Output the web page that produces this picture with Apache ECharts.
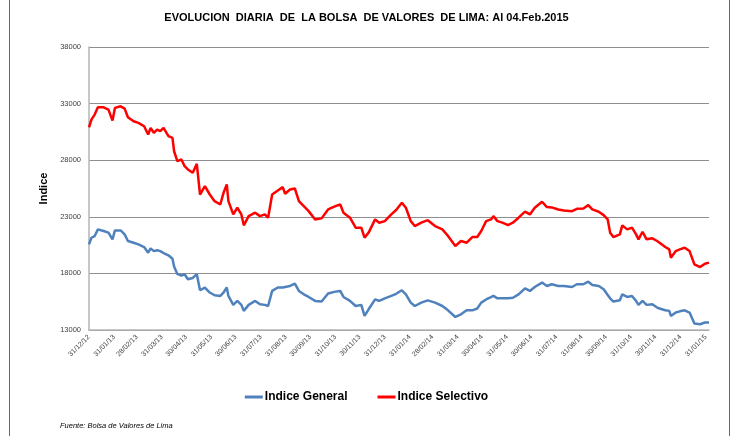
<!DOCTYPE html>
<html>
<head>
<meta charset="utf-8">
<script src="https://cdn.jsdelivr.net/npm/echarts@6/dist/echarts.min.js"></script>
<style>
  html, body { margin: 0; padding: 0; background: #fff; }
  #chart { width: 733px; height: 436px; }
</style>
</head>
<body>
<div id="chart"></div>
<script>
const dates = [
  '2012-12-31','2013-01-03','2013-01-07','2013-01-11','2013-01-18','2013-01-24','2013-01-29','2013-02-01',
  '2013-02-08','2013-02-13','2013-02-17','2013-02-24','2013-03-02','2013-03-09','2013-03-14','2013-03-17',
  '2013-03-21','2013-03-25','2013-03-29','2013-04-02','2013-04-08','2013-04-13','2013-04-15','2013-04-19',
  '2013-04-24','2013-04-28','2013-05-02','2013-05-08','2013-05-13','2013-05-17','2013-05-23','2013-05-29',
  '2013-06-04','2013-06-11','2013-06-15','2013-06-19','2013-06-21','2013-06-27','2013-07-02','2013-07-07',
  '2013-07-10','2013-07-16','2013-07-24','2013-07-30','2013-08-05','2013-08-09','2013-08-14','2013-08-21',
  '2013-08-27','2013-08-30','2013-09-05','2013-09-11','2013-09-16','2013-09-22','2013-09-28','2013-10-06',
  '2013-10-14','2013-10-22','2013-10-31','2013-11-06','2013-11-10','2013-11-18','2013-11-25','2013-12-02',
  '2013-12-06','2013-12-11','2013-12-19','2013-12-24','2013-12-31','2014-01-08','2014-01-14','2014-01-21',
  '2014-01-26','2014-02-01','2014-02-06','2014-02-14','2014-02-22','2014-03-03','2014-03-12','2014-03-19',
  '2014-03-28','2014-04-04','2014-04-11','2014-04-18','2014-04-24','2014-04-29','2014-05-05','2014-05-11',
  '2014-05-14','2014-05-19','2014-05-25','2014-06-01','2014-06-07','2014-06-14','2014-06-22','2014-06-28',
  '2014-07-04','2014-07-13','2014-07-19','2014-07-25','2014-08-02','2014-08-09','2014-08-19','2014-08-25',
  '2014-09-02','2014-09-08','2014-09-13','2014-09-21','2014-09-27','2014-10-02','2014-10-05','2014-10-09',
  '2014-10-17','2014-10-20','2014-10-26','2014-11-01','2014-11-06','2014-11-09','2014-11-14','2014-11-19',
  '2014-11-26','2014-12-02','2014-12-05','2014-12-12','2014-12-17','2014-12-19','2014-12-25','2014-12-30',
  '2015-01-05','2015-01-11','2015-01-17','2015-01-24','2015-01-30','2015-02-04'
];

const indiceGeneral = [
  20560,21150,21300,21890,21740,21600,21010,21800,
  21800,21450,20860,20710,20560,20330,19830,20210,
  19970,20050,19970,19800,19600,19300,18600,17950,
  17800,17920,17480,17600,17920,16510,16750,16310,
  16070,16010,16310,16750,16010,15220,15570,15220,
  14690,15220,15570,15270,15220,15120,16450,16750,
  16750,16800,16890,17100,16450,16150,15920,15570,
  15510,16220,16390,16450,15920,15570,15120,15220,
  14240,14830,15710,15570,15800,16010,16200,16510,
  16150,15420,15120,15420,15620,15420,15120,14740,
  14150,14390,14740,14740,14900,15420,15700,15900,
  16010,15800,15800,15800,15850,16150,16680,16450,
  16800,17190,16890,17040,16890,16890,16800,17040,
  17040,17270,16980,16890,16600,16100,15800,15510,
  15620,16150,15920,16010,15570,15220,15570,15220,
  15270,14980,14900,14740,14690,14240,14540,14650,
  14740,14540,13570,13510,13660,13660
];

const indiceSelectivo = [
  30910,31590,32030,32670,32670,32470,31500,32620,
  32760,32560,31790,31440,31300,31000,30270,30860,
  30420,30710,30560,30860,30120,29970,28790,27910,
  28060,27470,27180,26890,27680,24970,25710,24970,
  24380,24090,25120,25860,24380,23210,23800,23210,
  22250,23060,23360,23060,23210,22920,24970,25330,
  25620,25040,25410,25500,24380,23940,23500,22770,
  22860,23650,23940,24090,23360,22920,22040,22040,
  21160,21600,22770,22480,22620,23210,23600,24240,
  23800,22620,22180,22480,22700,22180,21890,21300,
  20420,20860,20710,21210,21210,21740,22620,22770,
  23060,22620,22480,22270,22480,22920,23450,23210,
  23800,24330,23860,23830,23650,23560,23500,23710,
  23740,24030,23650,23450,23150,22770,21600,21210,
  21450,22240,21890,22040,21450,21010,21680,21010,
  21100,20860,20710,20330,20120,19390,19970,20120,
  20270,19970,18800,18560,18860,18950
];

const xTickLabels = [
  '31/12/12','31/01/13','28/02/13','31/03/13','30/04/13','31/05/13','30/06/13','31/07/13',
  '31/08/13','30/09/13','31/10/13','30/11/13','31/12/13','31/01/14','28/02/14','31/03/14',
  '30/04/14','31/05/14','30/06/14','31/07/14','31/08/14','30/09/14','31/10/14','30/11/14',
  '31/12/14','31/01/15'
];

const yTicks = [13000, 18000, 23000, 28000, 33000, 38000];

function toTime(iso) { return Date.parse(iso + 'T00:00:00Z'); }
function labelToTime(s) {
  const p = s.split('/');
  return toTime('20' + p[2] + '-' + p[1] + '-' + p[0]);
}
const xTickTimes = xTickLabels.map(labelToTime);
const labelByTime = {};
xTickLabels.forEach((l, i) => { labelByTime[xTickTimes[i]] = l; });

const chart = echarts.init(document.getElementById('chart'));

chart.setOption({
  animation: false,
  backgroundColor: '#fff',
  textStyle: { fontFamily: 'Liberation Sans, Arial, sans-serif' },
  title: {
    text: 'EVOLUCION  DIARIA  DE  LA BOLSA  DE VALORES  DE LIMA: Al 04.Feb.2015',
    left: 'center',
    top: 7,
    textStyle: { fontSize: 11, fontWeight: 'bold', color: '#000' }
  },
  legend: {
    bottom: 28,
    left: 'center',
    itemGap: 30,
    itemWidth: 18,
    itemHeight: 3,
    icon: 'rect',
    textStyle: { fontSize: 12, fontWeight: 'bold', color: '#000', padding: [0, 0, 0, -3] },
    data: ['Indice General', 'Indice Selectivo']
  },
  grid: { left: 89, right: 24, top: 47, bottom: 106 },
  xAxis: {
    type: 'value',
    min: toTime('2012-12-31'),
    max: toTime('2015-02-04'),
    axisLine: { lineStyle: { color: '#b5b5b5', width: 1.5 } },
    axisTick: { show: false, customValues: xTickTimes },
    splitLine: { show: false },
    axisLabel: {
      customValues: xTickTimes,
      rotate: 45,
      fontSize: 7,
      color: '#404040',
      margin: 6,
      formatter: function (v) { return labelByTime[v] || ''; }
    }
  },
  yAxis: {
    type: 'value',
    min: 13000,
    max: 38000,
    name: 'Indice',
    nameLocation: 'middle',
    nameGap: 36,
    nameTextStyle: { fontSize: 11, fontWeight: 'bold', color: '#000' },
    axisLine: { show: true, lineStyle: { color: '#b5b5b5', width: 1.5 } },
    axisTick: { show: false, customValues: yTicks },
    axisLabel: {
      customValues: yTicks,
      fontSize: 7.5,
      color: '#404040',
      margin: 8,
      formatter: function (v) { return String(v); }
    },
    splitLine: { show: true, lineStyle: { color: '#8e8e8e', width: 1 } }
  },
  series: [
    {
      name: 'Indice General',
      type: 'line',
      showSymbol: false,
      color: '#4f81bd',
      lineStyle: { width: 2.5 },
      data: dates.map((d, i) => [toTime(d), indiceGeneral[i]])
    },
    {
      name: 'Indice Selectivo',
      type: 'line',
      showSymbol: false,
      color: '#ff0000',
      lineStyle: { width: 2.5 },
      data: dates.map((d, i) => [toTime(d), indiceSelectivo[i]])
    }
  ],
  graphic: [
    { type: 'line', shape: { x1: 9.5, y1: 0, x2: 9.5, y2: 436 }, style: { stroke: '#4a6da7', lineWidth: 1 } },
    { type: 'line', shape: { x1: 729.5, y1: 0, x2: 729.5, y2: 436 }, style: { stroke: '#4a6da7', lineWidth: 1 } },
    {
      type: 'text', left: 60, top: 422,
      style: { text: 'Fuente: Bolsa de Valores de Lima', font: 'italic 7.5px Liberation Sans, Arial, sans-serif', fill: '#000' }
    }
  ]
});
</script>
</body>
</html>
